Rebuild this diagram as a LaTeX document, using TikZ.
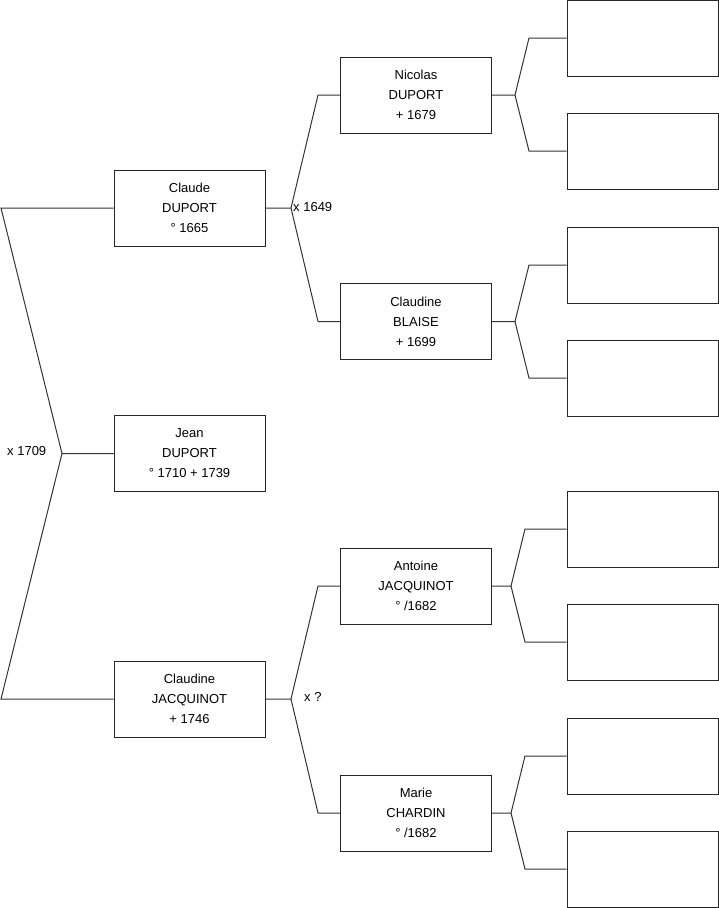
\documentclass[tikz,border=0pt]{standalone}
\usepackage{fontspec}
\setmainfont{Liberation Sans}
\begin{document}
\begin{tikzpicture}[x=1pt,y=-1pt,
  person/.style={draw=black!85, line width=1pt, minimum width=151pt, minimum height=76pt, inner sep=0pt, align=center, font=\fontsize{13}{20}\selectfont},
  link/.style={draw=black!80, line width=1pt},
  lbl/.style={font=\fontsize{13}{16}\selectfont, inner sep=0pt}]
\useasboundingbox (0,0) rectangle (719,908);
% generation 0 and 1
\node[person] (jean) at (189.5,453.5) {Jean\\DUPORT\\° 1710 + 1739};
\node[person] (claude) at (189.5,208) {Claude\\DUPORT\\° 1665};
\node[person] (claudine) at (189.5,699) {Claudine\\JACQUINOT\\+ 1746};
% generation 2
\node[person] (nicolas) at (416,95) {Nicolas\\DUPORT\\+ 1679};
\node[person] (blaise) at (416,321.5) {Claudine\\BLAISE\\+ 1699};
\node[person] (antoine) at (416,586) {Antoine\\JACQUINOT\\° /1682};
\node[person] (marie) at (416,813) {Marie\\CHARDIN\\° /1682};
% generation 3 (empty)
\node[person] (g1) at (642.5,38) {};
\node[person] (g2) at (642.5,151) {};
\node[person] (g3) at (642.5,265) {};
\node[person] (g4) at (642.5,378) {};
\node[person] (g5) at (642.5,529) {};
\node[person] (g6) at (642.5,642) {};
\node[person] (g7) at (642.5,756) {};
\node[person] (g8) at (642.5,869) {};
% junction coordinates
\coordinate (j0) at (62,453.5);
\coordinate (l0a) at (1,208);
\coordinate (l0b) at (1,699);
\coordinate (j1) at (291,208);
\coordinate (j1a) at (318,95);
\coordinate (j1b) at (318,321.5);
\coordinate (j2) at (291,699);
\coordinate (j2a) at (318,586);
\coordinate (j2b) at (318,813);
\coordinate (k1) at (515,95);
\coordinate (k1a) at (529,38);
\coordinate (k1b) at (529,151);
\coordinate (k2) at (515,321.5);
\coordinate (k2a) at (529,265);
\coordinate (k2b) at (529,378);
\coordinate (k3) at (511,586);
\coordinate (k3a) at (525,529);
\coordinate (k3b) at (525,642);
\coordinate (k4) at (511,813);
\coordinate (k4a) at (525,756);
\coordinate (k4b) at (525,869);
% connectors
\draw[link] (claude.west) -- (l0a) -- (j0) -- (jean.west);
\draw[link] (j0) -- (l0b) -- (claudine.west);
\draw[link] (claude.east) -- (j1) -- (j1a) -- (nicolas.west);
\draw[link] (j1) -- (j1b) -- (blaise.west);
\draw[link] (claudine.east) -- (j2) -- (j2a) -- (antoine.west);
\draw[link] (j2) -- (j2b) -- (marie.west);
\draw[link] (nicolas.east) -- (k1) -- (k1a) -- (g1.west);
\draw[link] (k1) -- (k1b) -- (g2.west);
\draw[link] (blaise.east) -- (k2) -- (k2a) -- (g3.west);
\draw[link] (k2) -- (k2b) -- (g4.west);
\draw[link] (antoine.east) -- (k3) -- (k3a) -- (g5.west);
\draw[link] (k3) -- (k3b) -- (g6.west);
\draw[link] (marie.east) -- (k4) -- (k4a) -- (g7.west);
\draw[link] (k4) -- (k4b) -- (g8.west);
% marriage labels
\node[lbl, anchor=west] (m0) at (7,451) {x 1709};
\node[lbl, anchor=west] (m1) at (293,207) {x 1649};
\node[lbl, anchor=west] (m2) at (304,697) {x ?};
\end{tikzpicture}
\end{document}
